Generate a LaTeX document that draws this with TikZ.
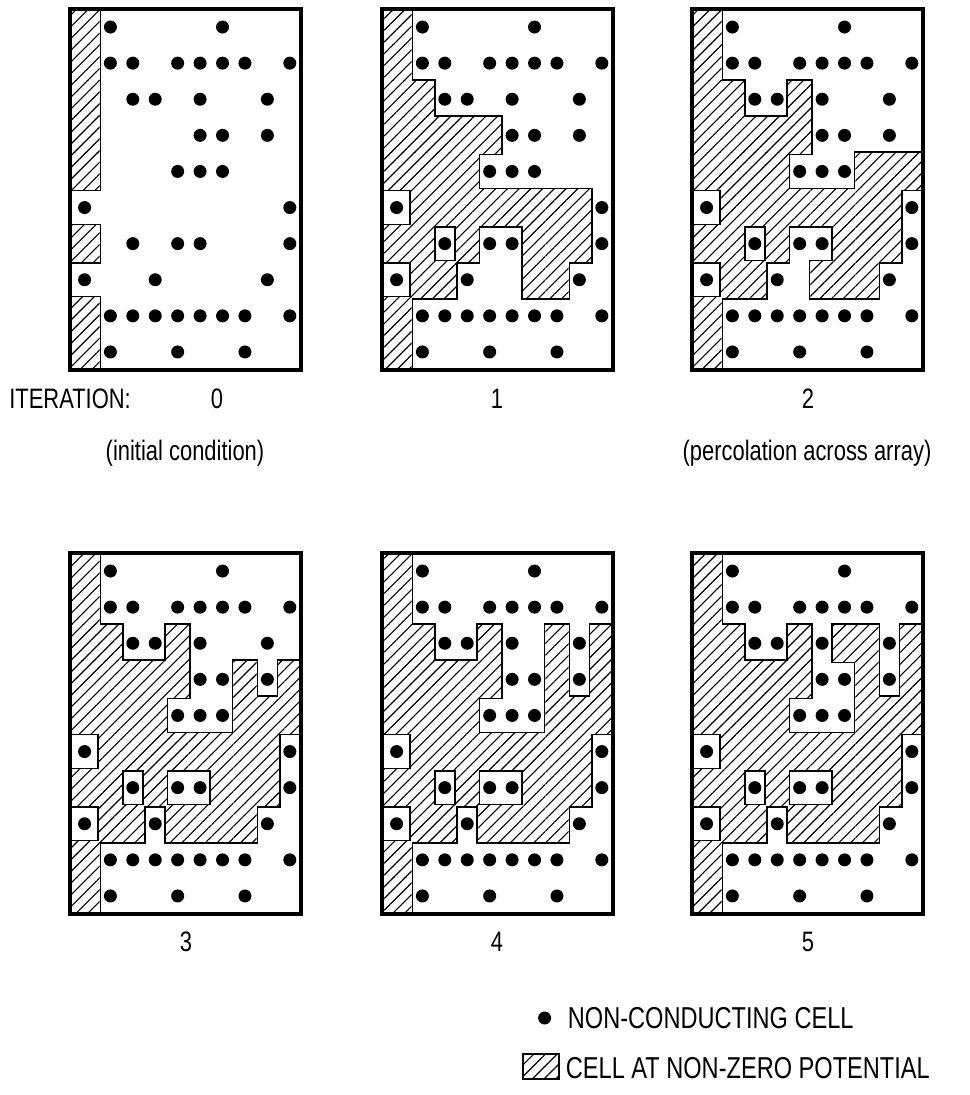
\documentclass[tikz,border=0pt]{standalone}
\usepackage{fontspec}
\setmainfont{Liberation Sans}
\newfontfamily\condfont[FakeStretch=0.78]{Liberation Sans}
\usetikzlibrary{patterns.meta}

\def\cellw{22.43}
\def\cellh{36.1}

% cells of the 10x10 array as column/row, row 0 on top
\def\dotcells{1/0,6/0,1/1,2/1,4/1,5/1,6/1,7/1,9/1,2/2,3/2,5/2,8/2,5/3,6/3,8/3,4/4,5/4,6/4,0/5,9/5,2/6,4/6,5/6,9/6,0/7,3/7,8/7,1/8,2/8,3/8,4/8,5/8,6/8,7/8,9/8,1/9,4/9,7/9}
\def\potzero{0/0,0/1,0/2,0/3,0/4,0/6,0/8,0/9}
\edef\potone{\potzero,1/2,1/3,2/3,3/3,4/3,1/4,2/4,3/4,1/5,2/5,3/5,4/5,5/5,6/5,7/5,8/5,1/6,3/6,6/6,7/6,8/6,1/7,2/7,6/7,7/7}
\edef\pottwo{\potone,4/2,7/4,8/4,9/4,5/7}
\edef\potthree{\pottwo,7/3,9/3,4/7}
\edef\potfour{\potthree,7/2,9/2}
\edef\potfive{\potfour,6/2}

\tikzset{
  hatchfill/.style={fill=white, postaction={pattern={Lines[angle=45,distance=5.9pt,line width=0.8pt]}}},
  cellline/.style={line width=2.8pt},
  frameline/.style={line width=2.2pt},
  lbl/.style={inner sep=0pt, anchor=base},
  legtext/.style={lbl, font=\condfont\fontsize{21.5}{26}\selectfont},
}

% one array: top-left corner x, y and the cells at potential
\newcommand{\drawarray}[3]{%
  \begin{scope}[shift={(#1,#2)}]
    \begin{scope}
      \clip (0,0) rectangle (231,361);
      \foreach \ci/\ri in #3 {
        \pgfmathsetmacro\xl{(\ci==0 ? 0 : \ci+0.3)*\cellw}
        \pgfmathsetmacro\xr{(\ci+1.3)*\cellw}
        \draw[cellline] (\xl,\ri*\cellh) rectangle (\xr,\ri*\cellh+\cellh);
      }
      \foreach \ci/\ri in #3 {
        \pgfmathsetmacro\xl{(\ci==0 ? 0 : \ci+0.3)*\cellw-0.4}
        \pgfmathsetmacro\xr{(\ci+1.3)*\cellw+0.4}
        \path[hatchfill] (\xl,\ri*\cellh-0.4) rectangle (\xr,\ri*\cellh+\cellh+0.4);
      }
    \end{scope}
    \foreach \ci/\ri in \dotcells {
      \pgfmathsetmacro\xm{(\ci==0 ? 0.65 : \ci+0.8)*\cellw}
      \fill (\xm,\ri*\cellh+0.5*\cellh) circle[radius=6.5];
    }
    \draw[frameline] (0,0) rectangle (231,361);
  \end{scope}}

\begin{document}
\begin{tikzpicture}[x=0.025cm, y=-0.025cm, font=\condfont\fontsize{20}{24}\selectfont]
\fill[white] (0,0) rectangle (969,1095);
\useasboundingbox (0,0) rectangle (969,1095);

% === Top row: iterations 0, 1, 2 ===
\drawarray{70}{9}{\potzero}
\drawarray{382}{9}{\potone}
\drawarray{692}{9}{\pottwo}

\node[lbl, anchor=base west] (iterlbl) at (9,408) {ITERATION:};
\node[lbl] (it0) at (217,408) {0};
\node[lbl] (it1) at (497,408) {1};
\node[lbl] (it2) at (808,408) {2};
\node[lbl] (note0) at (185,460) {(initial condition)};
\node[lbl] (note2) at (807,460) {(percolation across array)};

% === Bottom row: iterations 3, 4, 5 ===
\drawarray{70}{553}{\potthree}
\drawarray{382}{553}{\potfour}
\drawarray{692}{553}{\potfive}

\node[lbl] (it3) at (186,951) {3};
\node[lbl] (it4) at (497,951) {4};
\node[lbl] (it5) at (808,951) {5};

% === Legend ===
\node[legtext, anchor=base east] (legpot) at (930,1078) {CELL AT NON-ZERO POTENTIAL};
\path (legpot.base west) ++(2,-50) node[legtext, anchor=base west] (legdot) {NON-CONDUCTING CELL};
\draw[line width=1.4pt, hatchfill] (legpot.base west) ++(-7,1) rectangle ++(-36,-25);
\fill (legdot.base west) ++(-23,-10) circle[radius=6.5];

\end{tikzpicture}
\end{document}
